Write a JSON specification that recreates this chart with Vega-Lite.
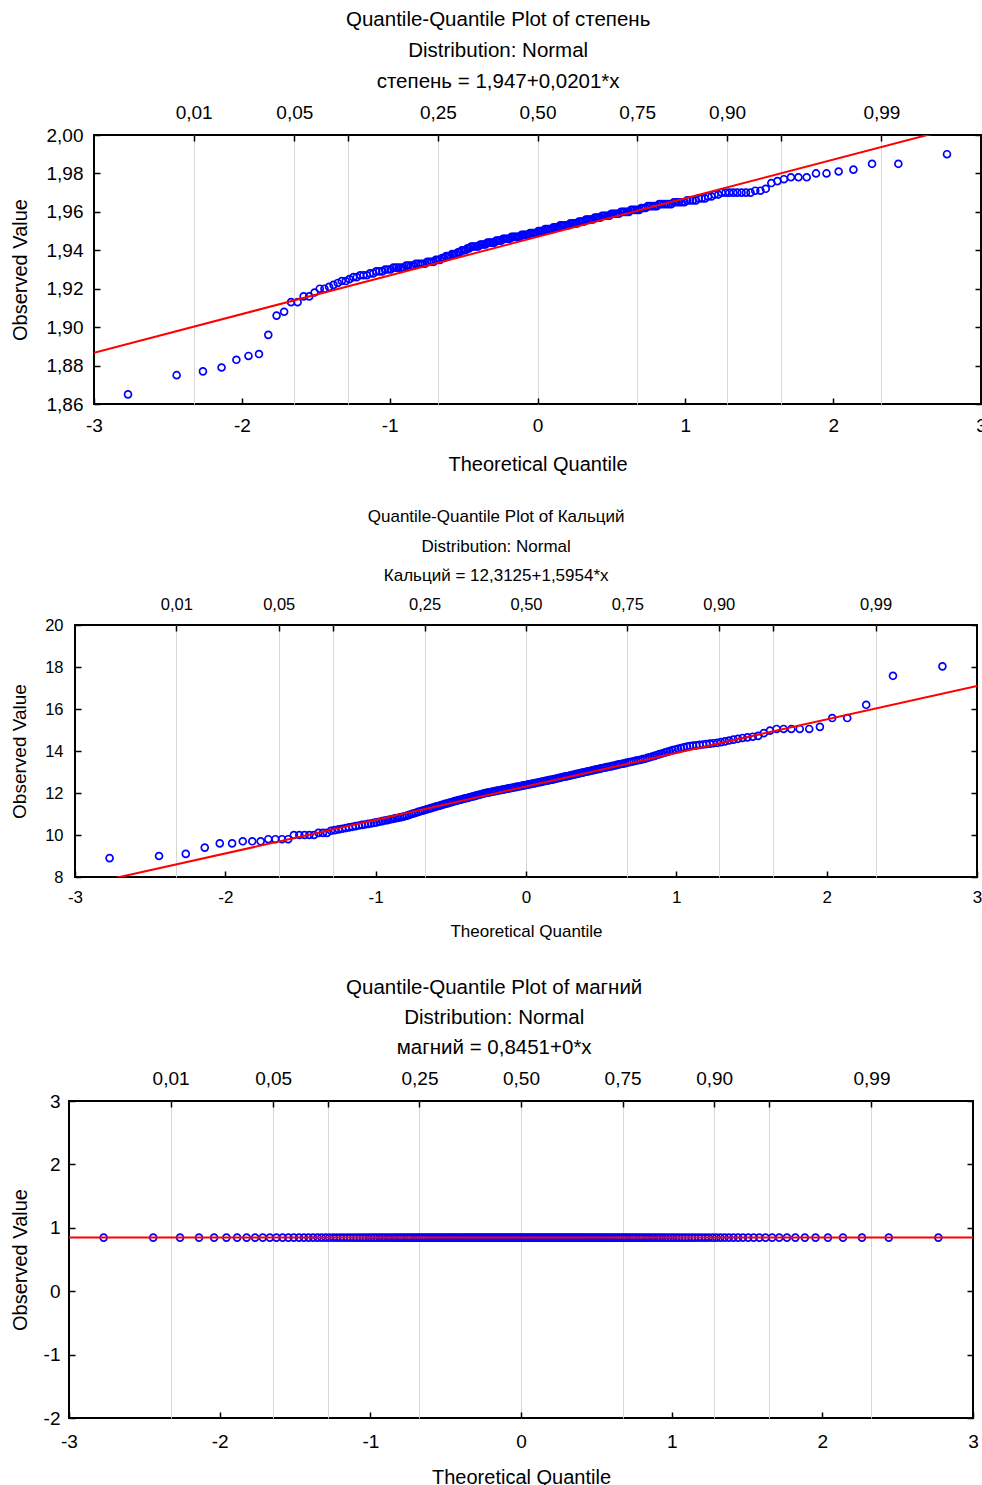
{
  "$schema": "https://vega.github.io/schema/vega-lite/v6.json",
  "padding": {"left": 8, "top": 8, "right": 0, "bottom": 0},
  "spacing": 36,
  "data": {"values": [
    {"z":-2.770,"st":1.865,"ca":8.9,"mg":0.8451},
    {"z":-2.441,"st":1.875,"ca":9.0,"mg":0.8451},
    {"z":-2.263,"st":1.877,"ca":9.1,"mg":0.8451},
    {"z":-2.137,"st":1.879,"ca":9.4,"mg":0.8451},
    {"z":-2.037,"st":1.883,"ca":9.6,"mg":0.8451},
    {"z":-1.955,"st":1.885,"ca":9.6,"mg":0.8451},
    {"z":-1.884,"st":1.886,"ca":9.7,"mg":0.8451},
    {"z":-1.821,"st":1.896,"ca":9.7,"mg":0.8451},
    {"z":-1.765,"st":1.906,"ca":9.7,"mg":0.8451},
    {"z":-1.714,"st":1.908,"ca":9.8,"mg":0.8451},
    {"z":-1.667,"st":1.913,"ca":9.8,"mg":0.8451},
    {"z":-1.623,"st":1.913,"ca":9.8,"mg":0.8451},
    {"z":-1.582,"st":1.916,"ca":9.8,"mg":0.8451},
    {"z":-1.544,"st":1.916,"ca":10.0,"mg":0.8451},
    {"z":-1.508,"st":1.918,"ca":10.0,"mg":0.8451},
    {"z":-1.473,"st":1.920,"ca":10.0,"mg":0.8451},
    {"z":-1.441,"st":1.920,"ca":10.0,"mg":0.8451},
    {"z":-1.410,"st":1.921,"ca":10.0,"mg":0.8451},
    {"z":-1.380,"st":1.922,"ca":10.1,"mg":0.8451},
    {"z":-1.351,"st":1.923,"ca":10.1,"mg":0.8451},
    {"z":-1.324,"st":1.924,"ca":10.1,"mg":0.8451},
    {"z":-1.297,"st":1.924,"ca":10.2,"mg":0.8451},
    {"z":-1.272,"st":1.925,"ca":10.23,"mg":0.8451},
    {"z":-1.246,"st":1.926,"ca":10.27,"mg":0.8451},
    {"z":-1.223,"st":1.926,"ca":10.30,"mg":0.8451},
    {"z":-1.199,"st":1.927,"ca":10.33,"mg":0.8451},
    {"z":-1.177,"st":1.927,"ca":10.36,"mg":0.8451},
    {"z":-1.154,"st":1.927,"ca":10.39,"mg":0.8451},
    {"z":-1.133,"st":1.928,"ca":10.42,"mg":0.8451},
    {"z":-1.111,"st":1.928,"ca":10.45,"mg":0.8451},
    {"z":-1.091,"st":1.929,"ca":10.48,"mg":0.8451},
    {"z":-1.071,"st":1.929,"ca":10.50,"mg":0.8451},
    {"z":-1.050,"st":1.929,"ca":10.53,"mg":0.8451},
    {"z":-1.031,"st":1.930,"ca":10.55,"mg":0.8451},
    {"z":-1.012,"st":1.930,"ca":10.58,"mg":0.8451},
    {"z":-0.994,"st":1.930,"ca":10.60,"mg":0.8451},
    {"z":-0.975,"st":1.931,"ca":10.63,"mg":0.8451},
    {"z":-0.957,"st":1.931,"ca":10.66,"mg":0.8451},
    {"z":-0.940,"st":1.931,"ca":10.69,"mg":0.8451},
    {"z":-0.922,"st":1.931,"ca":10.71,"mg":0.8451},
    {"z":-0.905,"st":1.931,"ca":10.74,"mg":0.8451},
    {"z":-0.888,"st":1.932,"ca":10.76,"mg":0.8451},
    {"z":-0.872,"st":1.932,"ca":10.79,"mg":0.8451},
    {"z":-0.855,"st":1.932,"ca":10.81,"mg":0.8451},
    {"z":-0.839,"st":1.932,"ca":10.84,"mg":0.8451},
    {"z":-0.823,"st":1.933,"ca":10.86,"mg":0.8451},
    {"z":-0.807,"st":1.933,"ca":10.89,"mg":0.8451},
    {"z":-0.792,"st":1.933,"ca":10.92,"mg":0.8451},
    {"z":-0.777,"st":1.933,"ca":10.96,"mg":0.8451},
    {"z":-0.761,"st":1.933,"ca":11.00,"mg":0.8451},
    {"z":-0.746,"st":1.934,"ca":11.03,"mg":0.8451},
    {"z":-0.732,"st":1.934,"ca":11.06,"mg":0.8451},
    {"z":-0.717,"st":1.934,"ca":11.10,"mg":0.8451},
    {"z":-0.702,"st":1.934,"ca":11.13,"mg":0.8451},
    {"z":-0.688,"st":1.935,"ca":11.16,"mg":0.8451},
    {"z":-0.674,"st":1.935,"ca":11.19,"mg":0.8451},
    {"z":-0.660,"st":1.935,"ca":11.22,"mg":0.8451},
    {"z":-0.646,"st":1.936,"ca":11.25,"mg":0.8451},
    {"z":-0.632,"st":1.936,"ca":11.28,"mg":0.8451},
    {"z":-0.618,"st":1.937,"ca":11.31,"mg":0.8451},
    {"z":-0.605,"st":1.937,"ca":11.34,"mg":0.8451},
    {"z":-0.591,"st":1.937,"ca":11.37,"mg":0.8451},
    {"z":-0.578,"st":1.938,"ca":11.39,"mg":0.8451},
    {"z":-0.565,"st":1.938,"ca":11.42,"mg":0.8451},
    {"z":-0.551,"st":1.938,"ca":11.45,"mg":0.8451},
    {"z":-0.538,"st":1.939,"ca":11.48,"mg":0.8451},
    {"z":-0.525,"st":1.939,"ca":11.50,"mg":0.8451},
    {"z":-0.512,"st":1.940,"ca":11.53,"mg":0.8451},
    {"z":-0.499,"st":1.940,"ca":11.56,"mg":0.8451},
    {"z":-0.487,"st":1.940,"ca":11.58,"mg":0.8451},
    {"z":-0.474,"st":1.941,"ca":11.61,"mg":0.8451},
    {"z":-0.462,"st":1.941,"ca":11.63,"mg":0.8451},
    {"z":-0.449,"st":1.942,"ca":11.66,"mg":0.8451},
    {"z":-0.437,"st":1.942,"ca":11.68,"mg":0.8451},
    {"z":-0.424,"st":1.942,"ca":11.70,"mg":0.8451},
    {"z":-0.412,"st":1.942,"ca":11.73,"mg":0.8451},
    {"z":-0.400,"st":1.942,"ca":11.75,"mg":0.8451},
    {"z":-0.387,"st":1.943,"ca":11.77,"mg":0.8451},
    {"z":-0.375,"st":1.943,"ca":11.80,"mg":0.8451},
    {"z":-0.363,"st":1.943,"ca":11.82,"mg":0.8451},
    {"z":-0.351,"st":1.943,"ca":11.84,"mg":0.8451},
    {"z":-0.339,"st":1.944,"ca":11.86,"mg":0.8451},
    {"z":-0.327,"st":1.944,"ca":11.89,"mg":0.8451},
    {"z":-0.315,"st":1.944,"ca":11.91,"mg":0.8451},
    {"z":-0.304,"st":1.944,"ca":11.93,"mg":0.8451},
    {"z":-0.292,"st":1.944,"ca":11.95,"mg":0.8451},
    {"z":-0.280,"st":1.945,"ca":11.98,"mg":0.8451},
    {"z":-0.268,"st":1.945,"ca":12.00,"mg":0.8451},
    {"z":-0.257,"st":1.945,"ca":12.02,"mg":0.8451},
    {"z":-0.245,"st":1.945,"ca":12.03,"mg":0.8451},
    {"z":-0.233,"st":1.946,"ca":12.05,"mg":0.8451},
    {"z":-0.222,"st":1.946,"ca":12.07,"mg":0.8451},
    {"z":-0.210,"st":1.946,"ca":12.08,"mg":0.8451},
    {"z":-0.199,"st":1.946,"ca":12.10,"mg":0.8451},
    {"z":-0.187,"st":1.946,"ca":12.12,"mg":0.8451},
    {"z":-0.176,"st":1.947,"ca":12.13,"mg":0.8451},
    {"z":-0.164,"st":1.947,"ca":12.15,"mg":0.8451},
    {"z":-0.153,"st":1.947,"ca":12.16,"mg":0.8451},
    {"z":-0.142,"st":1.947,"ca":12.18,"mg":0.8451},
    {"z":-0.130,"st":1.947,"ca":12.20,"mg":0.8451},
    {"z":-0.119,"st":1.947,"ca":12.21,"mg":0.8451},
    {"z":-0.107,"st":1.948,"ca":12.23,"mg":0.8451},
    {"z":-0.096,"st":1.948,"ca":12.24,"mg":0.8451},
    {"z":-0.085,"st":1.948,"ca":12.26,"mg":0.8451},
    {"z":-0.073,"st":1.948,"ca":12.28,"mg":0.8451},
    {"z":-0.062,"st":1.948,"ca":12.29,"mg":0.8451},
    {"z":-0.051,"st":1.949,"ca":12.31,"mg":0.8451},
    {"z":-0.040,"st":1.949,"ca":12.32,"mg":0.8451},
    {"z":-0.028,"st":1.949,"ca":12.34,"mg":0.8451},
    {"z":-0.017,"st":1.949,"ca":12.36,"mg":0.8451},
    {"z":-0.006,"st":1.949,"ca":12.37,"mg":0.8451},
    {"z":0.006,"st":1.950,"ca":12.39,"mg":0.8451},
    {"z":0.017,"st":1.950,"ca":12.41,"mg":0.8451},
    {"z":0.028,"st":1.950,"ca":12.42,"mg":0.8451},
    {"z":0.040,"st":1.950,"ca":12.44,"mg":0.8451},
    {"z":0.051,"st":1.951,"ca":12.46,"mg":0.8451},
    {"z":0.062,"st":1.951,"ca":12.47,"mg":0.8451},
    {"z":0.073,"st":1.951,"ca":12.49,"mg":0.8451},
    {"z":0.085,"st":1.951,"ca":12.51,"mg":0.8451},
    {"z":0.096,"st":1.951,"ca":12.52,"mg":0.8451},
    {"z":0.107,"st":1.952,"ca":12.54,"mg":0.8451},
    {"z":0.119,"st":1.952,"ca":12.56,"mg":0.8451},
    {"z":0.130,"st":1.952,"ca":12.58,"mg":0.8451},
    {"z":0.142,"st":1.952,"ca":12.59,"mg":0.8451},
    {"z":0.153,"st":1.953,"ca":12.61,"mg":0.8451},
    {"z":0.164,"st":1.953,"ca":12.63,"mg":0.8451},
    {"z":0.176,"st":1.953,"ca":12.64,"mg":0.8451},
    {"z":0.187,"st":1.953,"ca":12.66,"mg":0.8451},
    {"z":0.199,"st":1.953,"ca":12.68,"mg":0.8451},
    {"z":0.210,"st":1.953,"ca":12.70,"mg":0.8451},
    {"z":0.222,"st":1.954,"ca":12.72,"mg":0.8451},
    {"z":0.233,"st":1.954,"ca":12.74,"mg":0.8451},
    {"z":0.245,"st":1.954,"ca":12.76,"mg":0.8451},
    {"z":0.257,"st":1.954,"ca":12.78,"mg":0.8451},
    {"z":0.268,"st":1.954,"ca":12.79,"mg":0.8451},
    {"z":0.280,"st":1.955,"ca":12.81,"mg":0.8451},
    {"z":0.292,"st":1.955,"ca":12.83,"mg":0.8451},
    {"z":0.304,"st":1.955,"ca":12.85,"mg":0.8451},
    {"z":0.315,"st":1.955,"ca":12.87,"mg":0.8451},
    {"z":0.327,"st":1.956,"ca":12.89,"mg":0.8451},
    {"z":0.339,"st":1.956,"ca":12.91,"mg":0.8451},
    {"z":0.351,"st":1.956,"ca":12.93,"mg":0.8451},
    {"z":0.363,"st":1.956,"ca":12.95,"mg":0.8451},
    {"z":0.375,"st":1.956,"ca":12.97,"mg":0.8451},
    {"z":0.387,"st":1.957,"ca":12.99,"mg":0.8451},
    {"z":0.400,"st":1.957,"ca":13.01,"mg":0.8451},
    {"z":0.412,"st":1.957,"ca":13.03,"mg":0.8451},
    {"z":0.424,"st":1.957,"ca":13.05,"mg":0.8451},
    {"z":0.437,"st":1.958,"ca":13.07,"mg":0.8451},
    {"z":0.449,"st":1.958,"ca":13.09,"mg":0.8451},
    {"z":0.462,"st":1.958,"ca":13.11,"mg":0.8451},
    {"z":0.474,"st":1.958,"ca":13.13,"mg":0.8451},
    {"z":0.487,"st":1.958,"ca":13.15,"mg":0.8451},
    {"z":0.499,"st":1.959,"ca":13.17,"mg":0.8451},
    {"z":0.512,"st":1.959,"ca":13.19,"mg":0.8451},
    {"z":0.525,"st":1.959,"ca":13.21,"mg":0.8451},
    {"z":0.538,"st":1.959,"ca":13.23,"mg":0.8451},
    {"z":0.551,"st":1.959,"ca":13.25,"mg":0.8451},
    {"z":0.565,"st":1.960,"ca":13.27,"mg":0.8451},
    {"z":0.578,"st":1.960,"ca":13.29,"mg":0.8451},
    {"z":0.591,"st":1.960,"ca":13.31,"mg":0.8451},
    {"z":0.605,"st":1.960,"ca":13.34,"mg":0.8451},
    {"z":0.618,"st":1.960,"ca":13.36,"mg":0.8451},
    {"z":0.632,"st":1.961,"ca":13.38,"mg":0.8451},
    {"z":0.646,"st":1.961,"ca":13.40,"mg":0.8451},
    {"z":0.660,"st":1.961,"ca":13.42,"mg":0.8451},
    {"z":0.674,"st":1.961,"ca":13.45,"mg":0.8451},
    {"z":0.688,"st":1.961,"ca":13.47,"mg":0.8451},
    {"z":0.702,"st":1.962,"ca":13.49,"mg":0.8451},
    {"z":0.717,"st":1.962,"ca":13.51,"mg":0.8451},
    {"z":0.732,"st":1.962,"ca":13.54,"mg":0.8451},
    {"z":0.746,"st":1.963,"ca":13.56,"mg":0.8451},
    {"z":0.761,"st":1.963,"ca":13.58,"mg":0.8451},
    {"z":0.777,"st":1.963,"ca":13.61,"mg":0.8451},
    {"z":0.792,"st":1.963,"ca":13.63,"mg":0.8451},
    {"z":0.807,"st":1.963,"ca":13.67,"mg":0.8451},
    {"z":0.823,"st":1.964,"ca":13.70,"mg":0.8451},
    {"z":0.839,"st":1.964,"ca":13.74,"mg":0.8451},
    {"z":0.855,"st":1.964,"ca":13.77,"mg":0.8451},
    {"z":0.872,"st":1.964,"ca":13.81,"mg":0.8451},
    {"z":0.888,"st":1.964,"ca":13.85,"mg":0.8451},
    {"z":0.905,"st":1.964,"ca":13.88,"mg":0.8451},
    {"z":0.922,"st":1.965,"ca":13.92,"mg":0.8451},
    {"z":0.940,"st":1.965,"ca":13.96,"mg":0.8451},
    {"z":0.957,"st":1.965,"ca":14.00,"mg":0.8451},
    {"z":0.975,"st":1.965,"ca":14.04,"mg":0.8451},
    {"z":0.994,"st":1.965,"ca":14.07,"mg":0.8451},
    {"z":1.012,"st":1.966,"ca":14.10,"mg":0.8451},
    {"z":1.031,"st":1.966,"ca":14.14,"mg":0.8451},
    {"z":1.050,"st":1.966,"ca":14.17,"mg":0.8451},
    {"z":1.071,"st":1.966,"ca":14.21,"mg":0.8451},
    {"z":1.091,"st":1.967,"ca":14.24,"mg":0.8451},
    {"z":1.111,"st":1.967,"ca":14.26,"mg":0.8451},
    {"z":1.133,"st":1.967,"ca":14.27,"mg":0.8451},
    {"z":1.154,"st":1.968,"ca":14.29,"mg":0.8451},
    {"z":1.177,"st":1.968,"ca":14.31,"mg":0.8451},
    {"z":1.199,"st":1.969,"ca":14.33,"mg":0.8451},
    {"z":1.223,"st":1.969,"ca":14.35,"mg":0.8451},
    {"z":1.246,"st":1.970,"ca":14.37,"mg":0.8451},
    {"z":1.272,"st":1.970,"ca":14.39,"mg":0.8451},
    {"z":1.297,"st":1.970,"ca":14.42,"mg":0.8451},
    {"z":1.324,"st":1.970,"ca":14.46,"mg":0.8451},
    {"z":1.351,"st":1.970,"ca":14.50,"mg":0.8451},
    {"z":1.380,"st":1.970,"ca":14.54,"mg":0.8451},
    {"z":1.410,"st":1.970,"ca":14.58,"mg":0.8451},
    {"z":1.441,"st":1.970,"ca":14.62,"mg":0.8451},
    {"z":1.473,"st":1.971,"ca":14.65,"mg":0.8451},
    {"z":1.508,"st":1.971,"ca":14.68,"mg":0.8451},
    {"z":1.544,"st":1.972,"ca":14.72,"mg":0.8451},
    {"z":1.582,"st":1.975,"ca":14.85,"mg":0.8451},
    {"z":1.623,"st":1.976,"ca":14.97,"mg":0.8451},
    {"z":1.667,"st":1.977,"ca":15.05,"mg":0.8451},
    {"z":1.714,"st":1.978,"ca":15.05,"mg":0.8451},
    {"z":1.765,"st":1.978,"ca":15.05,"mg":0.8451},
    {"z":1.821,"st":1.978,"ca":15.05,"mg":0.8451},
    {"z":1.884,"st":1.980,"ca":15.05,"mg":0.8451},
    {"z":1.955,"st":1.980,"ca":15.15,"mg":0.8451},
    {"z":2.037,"st":1.981,"ca":15.57,"mg":0.8451},
    {"z":2.137,"st":1.982,"ca":15.57,"mg":0.8451},
    {"z":2.263,"st":1.985,"ca":16.20,"mg":0.8451},
    {"z":2.441,"st":1.985,"ca":17.58,"mg":0.8451},
    {"z":2.770,"st":1.990,"ca":18.03,"mg":0.8451}
  ]},
  "vconcat": [
    {
      "spacing": 32,
      "vconcat": [
        {"hconcat": [
          {"width": 1, "height": 1, "data": {"values": []}, "mark": {"type": "point", "opacity": 0}, "encoding": {}, "view": {"stroke": null}},
          {
            "width": 887, "height": 269,
            "title": {"text": ["Quantile-Quantile Plot of степень", "Distribution: Normal", "степень = 1,947+0,0201*x"], "lineHeight": 31, "offset": 11, "fontSize": 20.5},
            "layer": [
              {
                "mark": {"type": "point", "shape": "circle", "filled": false, "color": "#0000ff", "size": 48, "strokeWidth": 1.7, "opacity": 1},
                "encoding": {
                  "x": {"field": "z", "type": "quantitative", "scale": {"domain": [-3, 3], "nice": false, "zero": false},
                        "axis": {"orient": "bottom", "values": [-3, -2, -1, 0, 1, 2, 3], "labelExpr": "'' + datum.value", "labelPadding": 18, "title": "Theoretical Quantile", "titlePadding": 19}},
                  "y": {"field": "st", "type": "quantitative", "scale": {"domain": [1.86, 2.0], "nice": false, "zero": false},
                        "axis": {"orient": "left", "values": [1.86, 1.88, 1.9, 1.92, 1.94, 1.96, 1.98, 2.0], "labelExpr": "replace(format(datum.value, '.2f'), '.', ',')", "labelPadding": 17, "title": "Observed Value", "titlePadding": 16}}
                }
              },
              {
                "data": {"values": [{"z": -3, "fit": 1.8867}, {"z": 3, "fit": 2.0073}]},
                "mark": {"type": "line", "color": "#ff0000", "strokeWidth": 2, "clip": true},
                "encoding": {
                  "x": {"field": "z", "type": "quantitative", "scale": {"domain": [-3, 3], "nice": false, "zero": false},
                        "axis": {"orient": "top", "values": [-2.326, -1.645, -1.282, -0.674, 0, 0.674, 1.282, 1.645, 2.326], "grid": true, "labelExpr": "datum.value < -2 ? '0,01' : datum.value < -1.5 ? '0,05' : datum.value < -1 ? '' : datum.value < -0.5 ? '0,25' : datum.value < 0.5 ? '0,50' : datum.value < 1 ? '0,75' : datum.value < 1.5 ? '0,90' : datum.value < 2 ? '' : '0,99'", "labelPadding": 19, "title": null}},
                  "y": {"field": "fit", "type": "quantitative", "scale": {"domain": [1.86, 2.0], "nice": false, "zero": false},
                        "axis": {"orient": "right", "values": [1.86, 1.88, 1.9, 1.92, 1.94, 1.96, 1.98, 2.0], "labels": false, "title": null}}
                }
              }
            ],
            "resolve": {"axis": {"x": "independent", "y": "independent"}}
          }
        ], "spacing": 0, "align": "none"},
        {"hconcat": [
          {"width": 1, "height": 1, "data": {"values": []}, "mark": {"type": "point", "opacity": 0}, "encoding": {}, "view": {"stroke": null}},
          {
            "width": 902, "height": 252,
            "title": {"text": ["Quantile-Quantile Plot of Кальций", "Distribution: Normal", "Кальций = 12,3125+1,5954*x"], "lineHeight": 29.5, "offset": 11, "fontSize": 17},
            "layer": [
              {
                "mark": {"type": "point", "shape": "circle", "filled": false, "color": "#0000ff", "size": 48, "strokeWidth": 1.7, "opacity": 1},
                "encoding": {
                  "x": {"field": "z", "type": "quantitative", "scale": {"domain": [-3, 3], "nice": false, "zero": false},
                        "axis": {"orient": "bottom", "values": [-3, -2, -1, 0, 1, 2, 3], "labelExpr": "'' + datum.value", "labelPadding": 18, "labelFontSize": 17, "title": "Theoretical Quantile", "titleFontSize": 17, "titlePadding": 18}},
                  "y": {"field": "ca", "type": "quantitative", "scale": {"domain": [8, 20], "nice": false, "zero": false},
                        "axis": {"orient": "left", "values": [8, 10, 12, 14, 16, 18, 20], "labelExpr": "'' + datum.value", "labelPadding": 18, "labelFontSize": 16.5, "title": "Observed Value", "titleFontSize": 19, "titlePadding": 15}}
                }
              },
              {
                "data": {"values": [{"z": -3, "fit": 7.5263}, {"z": 3, "fit": 17.0987}]},
                "mark": {"type": "line", "color": "#ff0000", "strokeWidth": 2, "clip": true},
                "encoding": {
                  "x": {"field": "z", "type": "quantitative", "scale": {"domain": [-3, 3], "nice": false, "zero": false},
                        "axis": {"orient": "top", "values": [-2.326, -1.645, -1.282, -0.674, 0, 0.674, 1.282, 1.645, 2.326], "grid": true, "labelExpr": "datum.value < -2 ? '0,01' : datum.value < -1.5 ? '0,05' : datum.value < -1 ? '' : datum.value < -0.5 ? '0,25' : datum.value < 0.5 ? '0,50' : datum.value < 1 ? '0,75' : datum.value < 1.5 ? '0,90' : datum.value < 2 ? '' : '0,99'", "labelPadding": 19, "labelFontSize": 16.5, "title": null}},
                  "y": {"field": "fit", "type": "quantitative", "scale": {"domain": [8, 20], "nice": false, "zero": false},
                        "axis": {"orient": "right", "values": [8, 10, 12, 14, 16, 18, 20], "labels": false, "title": null}}
                }
              }
            ],
            "resolve": {"axis": {"x": "independent", "y": "independent"}}
          }
        ], "spacing": 0, "align": "none"}
      ]
    },
    {"hconcat": [
      {"width": 1, "height": 1, "data": {"values": []}, "mark": {"type": "point", "opacity": 0}, "encoding": {}, "view": {"stroke": null}},
      {
        "width": 904, "height": 317,
        "title": {"text": ["Quantile-Quantile Plot of магний", "Distribution: Normal", "магний = 0,8451+0*x"], "lineHeight": 30, "offset": 11, "fontSize": 20.5},
        "layer": [
          {
            "mark": {"type": "point", "shape": "circle", "filled": false, "color": "#0000ff", "size": 48, "strokeWidth": 1.7, "opacity": 1},
            "encoding": {
              "x": {"field": "z", "type": "quantitative", "scale": {"domain": [-3, 3], "nice": false, "zero": false},
                    "axis": {"orient": "bottom", "values": [-3, -2, -1, 0, 1, 2, 3], "labelExpr": "'' + datum.value", "labelPadding": 20, "title": "Theoretical Quantile", "titlePadding": 16}},
              "y": {"field": "mg", "type": "quantitative", "scale": {"domain": [-2, 3], "nice": false, "zero": false},
                    "axis": {"orient": "left", "values": [-2, -1, 0, 1, 2, 3], "labelExpr": "'' + datum.value", "labelPadding": 15, "title": "Observed Value", "titlePadding": 13}}
            }
          },
          {
            "data": {"values": [{"z": -3, "fit": 0.8451}, {"z": 3, "fit": 0.8451}]},
            "mark": {"type": "line", "color": "#ff0000", "strokeWidth": 2, "clip": true},
            "encoding": {
              "x": {"field": "z", "type": "quantitative", "scale": {"domain": [-3, 3], "nice": false, "zero": false},
                    "axis": {"orient": "top", "values": [-2.326, -1.645, -1.282, -0.674, 0, 0.674, 1.282, 1.645, 2.326], "grid": true, "labelExpr": "datum.value < -2 ? '0,01' : datum.value < -1.5 ? '0,05' : datum.value < -1 ? '' : datum.value < -0.5 ? '0,25' : datum.value < 0.5 ? '0,50' : datum.value < 1 ? '0,75' : datum.value < 1.5 ? '0,90' : datum.value < 2 ? '' : '0,99'", "labelPadding": 19, "title": null}},
              "y": {"field": "fit", "type": "quantitative", "scale": {"domain": [-2, 3], "nice": false, "zero": false},
                    "axis": {"orient": "right", "values": [-2, -1, 0, 1, 2, 3], "labels": false, "title": null}}
            }
          }
        ],
        "resolve": {"axis": {"x": "independent", "y": "independent"}}
      }
    ], "spacing": 0, "align": "none"}
  ],
  "config": {
    "font": "Liberation Sans",
    "background": "#ffffff",
    "view": {"stroke": "#000000", "strokeWidth": 2},
    "axis": {"domain": false, "grid": false, "gridColor": "#d6d6d6", "gridWidth": 1, "tickColor": "#000000", "tickWidth": 1.5, "tickSize": -6, "labelColor": "#000000", "labelFontSize": 19, "labelFlush": false, "labelOverlap": false, "titleColor": "#000000", "titleFontSize": 20, "titleFontWeight": "normal"},
    "title": {"fontSize": 20, "fontWeight": "normal", "color": "#000000", "anchor": "middle", "frame": "bounds"}
  }
}
